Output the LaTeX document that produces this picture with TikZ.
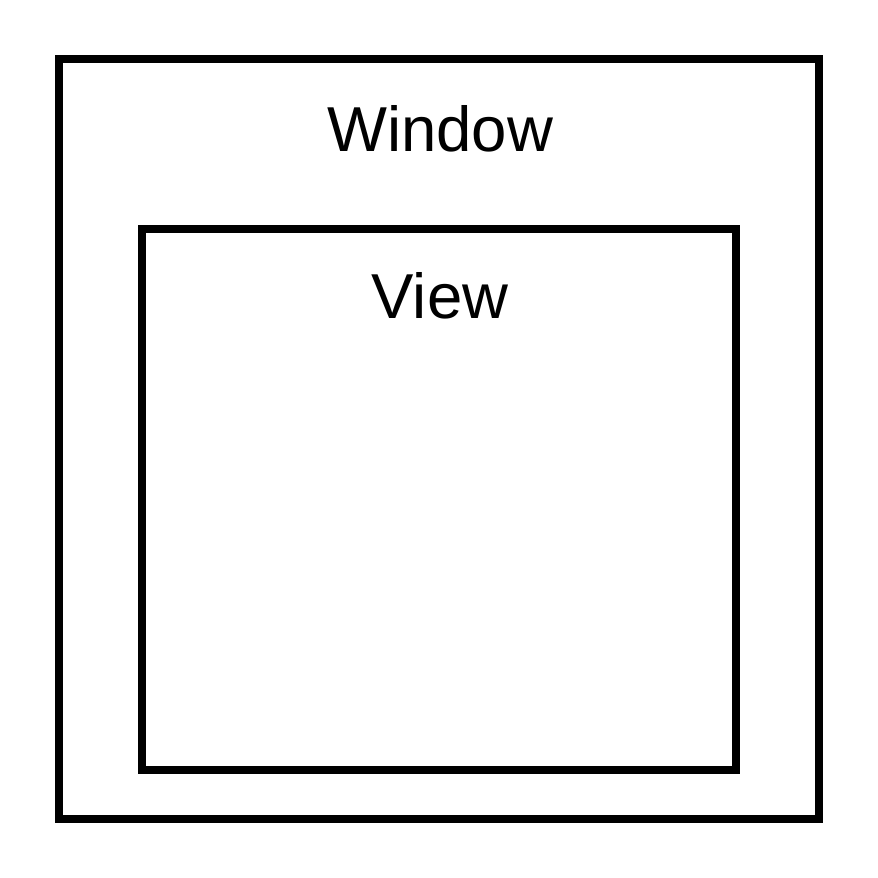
\documentclass[tikz,border=0pt]{standalone}
\usepackage{fontspec}
\setmainfont{Liberation Sans}
\begin{document}
\begin{tikzpicture}[x=1pt,y=-1pt,
  box/.style={draw=black,line width=8pt},
  lbl/.style={inner sep=0pt,anchor=base,font=\fontsize{63.5}{76}\selectfont}]
\useasboundingbox (0,0) rectangle (878,878);
\draw[box] (59,59) rectangle (819,819);
\draw[box] (142,229) rectangle (736,770);
\node[lbl] (window) at (440,151.7) {Window};
\node[lbl] (view) at (440,318.3) {View};
\end{tikzpicture}
\end{document}
